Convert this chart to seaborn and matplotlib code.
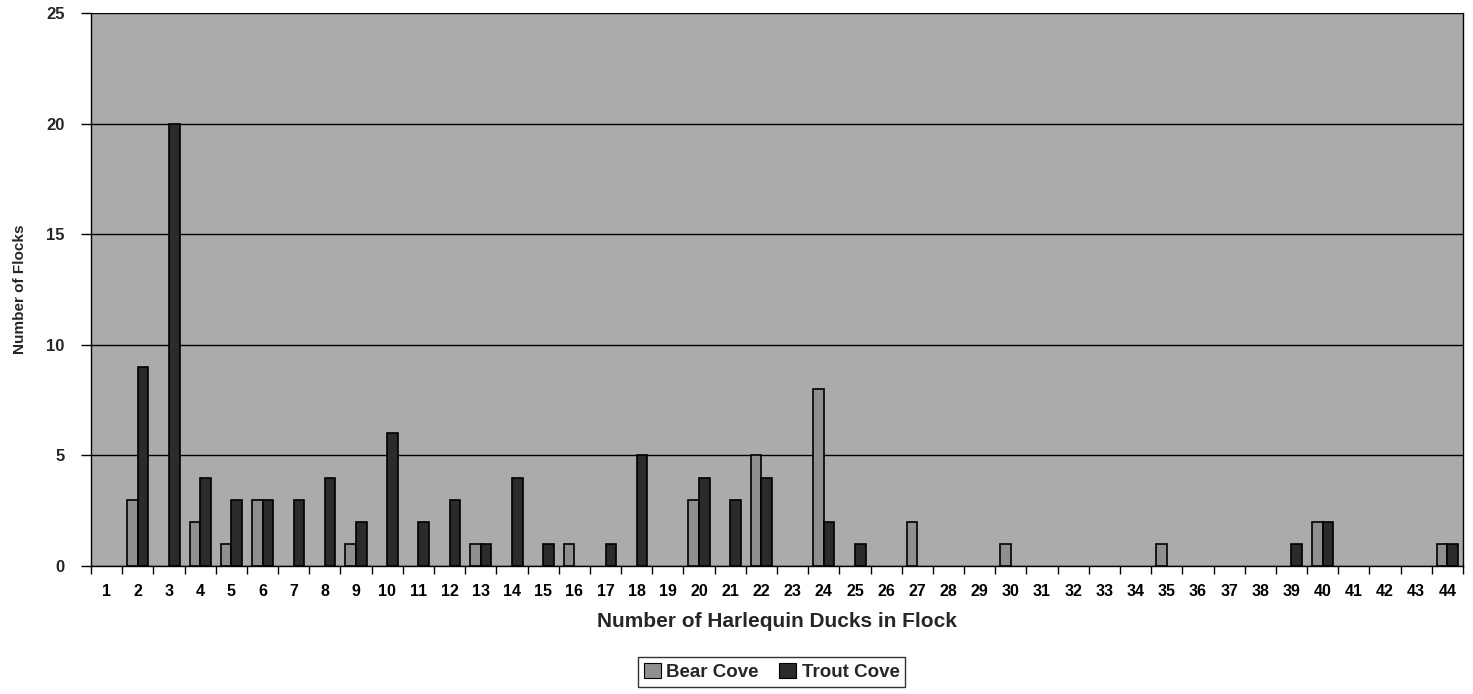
import numpy as np
import pandas as pd
import matplotlib
matplotlib.use("Agg")
import matplotlib.pyplot as plt
import seaborn as sns

# Flock size categories and number of flocks observed at each site
flock_sizes = list(range(1, 45))
bear_cove = [0, 3, 0, 2, 1, 3, 0, 0, 1, 0,
             0, 0, 1, 0, 0, 1, 0, 0, 0, 3,
             0, 5, 0, 8, 0, 0, 2, 0, 0, 1,
             0, 0, 0, 0, 1, 0, 0, 0, 0, 2,
             0, 0, 0, 1]
trout_cove = [0, 9, 20, 4, 3, 3, 3, 4, 2, 6,
              2, 3, 1, 4, 1, 0, 1, 5, 0, 4,
              3, 4, 0, 2, 1, 0, 0, 0, 0, 0,
              0, 0, 0, 0, 0, 0, 0, 0, 1, 2,
              0, 0, 0, 1]
series_names = ["Bear Cove", "Trout Cove"]
y_ticks = [0, 5, 10, 15, 20, 25]

df = pd.DataFrame({
    "size": flock_sizes * 2,
    "flocks": bear_cove + trout_cove,
    "site": [series_names[0]] * len(flock_sizes) + [series_names[1]] * len(flock_sizes),
})
df["size"] = pd.Categorical(df["size"].astype(str),
                            categories=[str(s) for s in flock_sizes], ordered=True)

sns.set_theme(style="white")
plt.rcParams["font.family"] = ["Liberation Sans", "DejaVu Sans"]

fig = plt.figure(figsize=(14.73, 6.94), dpi=100)
ax = fig.add_axes([0.0618, 0.1844, 0.9314, 0.7969])
ax.set_facecolor("#ababab")

palette = {"Bear Cove": "#8f8f8f", "Trout Cove": "#2b2b2b"}
sns.barplot(data=df, x="size", y="flocks", hue="site", palette=palette,
            width=0.68, edgecolor="black", linewidth=1.2, saturation=1,
            ax=ax, legend=False, zorder=3)

# Empty categories get no bar outline
for p in ax.patches:
    if p.get_height() == 0:
        p.set_visible(False)

ax.set_ylim(0, 25)
ax.set_xlim(-0.5, len(flock_sizes) - 0.5)
ax.set_yticks(y_ticks)
ax.yaxis.grid(True, color="black", linewidth=1.0, zorder=1)
ax.set_axisbelow(True)

# Category labels centred, tick marks between categories
ax.set_xticks(range(len(flock_sizes)))
ax.set_xticklabels([str(s) for s in flock_sizes])
ax.set_xticks(np.arange(-0.5, len(flock_sizes), 1.0), minor=True)
ax.tick_params(axis="x", which="major", length=0, pad=13,
               labelsize=11.5, labelcolor="black")
ax.tick_params(axis="x", which="minor", length=6, width=1, color="black",
               direction="out", bottom=True)
ax.tick_params(axis="y", which="major", length=7, width=1, color="black",
               direction="out", left=True, labelsize=12, pad=12)
for lbl in ax.get_xticklabels() + ax.get_yticklabels():
    lbl.set_fontweight("bold")

for side in ["left", "bottom", "right"]:
    ax.spines[side].set_visible(True)
    ax.spines[side].set_color("black")
    ax.spines[side].set_linewidth(1.0)
ax.spines["top"].set_visible(False)

ax.set_xlabel("Number of Harlequin Ducks in Flock", fontsize=15,
              fontweight="bold", labelpad=9)
ax.set_ylabel("Number of Flocks", fontsize=11, fontweight="bold", labelpad=14)

handles = [plt.Rectangle((0, 0), 1, 1, facecolor=palette[n], edgecolor="black",
                         linewidth=0.8) for n in series_names]
leg = fig.legend(handles, series_names, loc="center", ncol=2,
                 bbox_to_anchor=(0.524, 0.032), frameon=True, fancybox=False,
                 edgecolor="black", handlelength=0.9, handleheight=0.9,
                 handletextpad=0.3, columnspacing=1.1, borderpad=0.3,
                 prop={"size": 13.5, "weight": "bold"})
leg.get_frame().set_linewidth(1.0)

fig.savefig("out.png", dpi=100, facecolor="white")
